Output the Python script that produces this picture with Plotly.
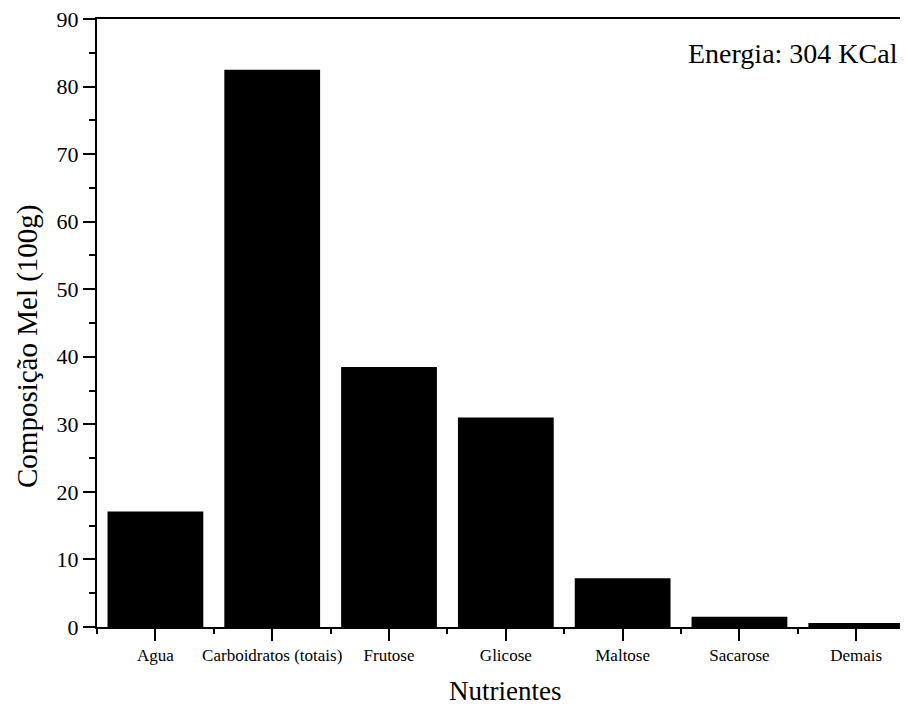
import plotly.graph_objects as go

categories = ["Agua", "Carboidratos (totais)", "Frutose", "Glicose", "Maltose", "Sacarose", "Demais"]
values = [17.1, 82.5, 38.5, 31.0, 7.2, 1.5, 0.6]
y_ticks = [0, 10, 20, 30, 40, 50, 60, 70, 80, 90]

FONT = "Liberation Serif, Times New Roman, Times, serif"
positions = list(range(len(categories)))

# the page body has an 8px margin, so the figure is offset by 8px
OFF = 8
W, H = 908 - OFF, 707 - OFF
ML, MR, MT, MB = 97 - OFF, 0, 19 - OFF, 80

fig = go.Figure()
fig.add_trace(go.Bar(
    x=positions, y=values, width=0.82,
    marker=dict(color="black", line=dict(width=0)),
    showlegend=False,
))

pw = W - ML - MR
ph = H - MT - MB


def px_x(x):
    return (x - OFF - ML) / pw


def px_y(y):
    return 1 - (y - OFF - MT) / ph


fig.update_layout(
    width=W, height=H,
    margin=dict(l=ML, r=MR, t=MT, b=MB, autoexpand=False),
    plot_bgcolor="white", paper_bgcolor="white",
    font=dict(family=FONT, color="black"),
    xaxis=dict(
        range=[-0.5, 6.443], automargin=False,
        tickmode="array", tickvals=positions, ticktext=categories,
        ticks="outside", ticklen=12, tickwidth=2, tickcolor="black",
        tickfont=dict(family=FONT, size=17, color="black"),
        showline=True, linewidth=2, linecolor="black", mirror=True,
        showgrid=False, zeroline=False, ticklabeloverflow="allow",
        minor=dict(tick0=0.5, dtick=1, ticks="outside", ticklen=5, tickwidth=2, tickcolor="black", showgrid=False),
    ),
    yaxis=dict(
        range=[0, 90], automargin=False,
        tickmode="array", tickvals=y_ticks,
        ticks="outside", ticklen=12, tickwidth=2, tickcolor="black",
        tickfont=dict(family=FONT, size=22, color="black"),
        showline=True, linewidth=2, linecolor="black", mirror=False,
        showgrid=False, zeroline=False, ticklabeloverflow="allow",
        minor=dict(tick0=5, dtick=10, ticks="outside", ticklen=6, tickwidth=2, tickcolor="black", showgrid=False),
    ),
    annotations=[
        dict(text="Energia: 304 KCal", xref="paper", yref="paper", x=px_x(900), y=px_y(53),
             xanchor="right", yanchor="middle", showarrow=False,
             font=dict(family=FONT, size=28, color="black")),
        dict(text="Nutrientes", xref="paper", yref="paper",
             x=px_x(505), y=px_y(691),
             xanchor="center", yanchor="middle", showarrow=False,
             font=dict(family=FONT, size=27, color="black")),
        dict(text="Composição Mel (100g)", xref="paper", yref="paper",
             x=px_x(27), y=px_y(346), textangle=-90,
             xanchor="center", yanchor="middle", showarrow=False,
             font=dict(family=FONT, size=29, color="black")),
    ],
)

fig.write_html("out.html")
